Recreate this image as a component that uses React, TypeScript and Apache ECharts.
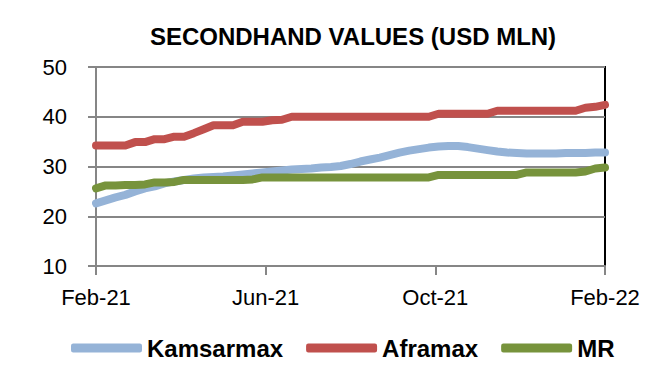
import React, { useEffect, useRef } from "react";
import * as echarts from "echarts";

// Weekly secondhand values, Feb-21 .. Feb-22 (53 weeks)
const kamsarmax = [
  22.6, 23.2, 23.8, 24.3, 25.0, 25.6, 26.0, 26.6, 27.0, 27.3,
  27.6, 27.8, 27.9, 28.0, 28.2, 28.4, 28.6, 28.8, 29.0, 29.2,
  29.4, 29.5, 29.6, 29.8, 29.9, 30.1, 30.5, 31.0, 31.4, 31.8,
  32.3, 32.8, 33.2, 33.5, 33.8, 34.0, 34.1, 34.1, 33.9, 33.6,
  33.3, 33.0, 32.8, 32.7, 32.6, 32.6, 32.6, 32.6, 32.7, 32.7,
  32.7, 32.8, 32.8,
];
const aframax = [
  34.2, 34.2, 34.2, 34.2, 34.9, 34.9, 35.5, 35.5, 36.0, 36.0,
  36.7, 37.5, 38.3, 38.3, 38.3, 39.0, 39.0, 39.0, 39.3, 39.4,
  40.0, 40.0, 40.0, 40.0, 40.0, 40.0, 40.0, 40.0, 40.0, 40.0,
  40.0, 40.0, 40.0, 40.0, 40.0, 40.6, 40.6, 40.6, 40.6, 40.6,
  40.6, 41.2, 41.2, 41.2, 41.2, 41.2, 41.2, 41.2, 41.2, 41.2,
  41.8, 42.0, 42.4,
];
const mr = [
  25.6, 26.2, 26.2, 26.3, 26.3, 26.4, 26.8, 26.8, 26.9, 27.3,
  27.3, 27.3, 27.3, 27.3, 27.3, 27.3, 27.4, 27.8, 27.8, 27.8,
  27.8, 27.8, 27.8, 27.8, 27.8, 27.8, 27.8, 27.8, 27.8, 27.8,
  27.8, 27.8, 27.8, 27.8, 27.8, 28.3, 28.3, 28.3, 28.3, 28.3,
  28.3, 28.3, 28.3, 28.3, 28.8, 28.8, 28.8, 28.8, 28.8, 28.8,
  29.0, 29.6, 29.8,
];
const seriesNames = ["Kamsarmax", "Aframax", "MR"];
const seriesColors = ["#95B3D7", "#C0504D", "#77933C"];
const monthLabels = ["Feb-21", "Jun-21", "Oct-21", "Feb-22"];
const yTicks = [10, 20, 30, 40, 50];
const titleText = "SECONDHAND VALUES (USD MLN)";

const FONT = "'Liberation Sans', Arial, sans-serif";
const WEEKS_PER_YEAR = 52;

function toPoints(values: number[]) {
  // x in months since Feb-21 (weekly observations)
  return values.map((v, i) => [(i * 12) / WEEKS_PER_YEAR, v]);
}

export default function App() {
  const ref = useRef<HTMLDivElement>(null);
  useEffect(() => {
    if (!ref.current) return;
    const chart = echarts.init(ref.current, undefined, { renderer: "svg" });
    const all = [kamsarmax, aframax, mr];
    chart.setOption({
      animation: false,
      backgroundColor: "#ffffff",
      textStyle: { fontFamily: FONT },
      graphic: [
        {
          type: "text",
          x: 353,
          y: 36,
          style: {
            text: titleText,
            fill: "#000",
            font: `bold 24px ${FONT}`,
            textAlign: "center",
            textVerticalAlign: "middle",
          },
        },
      ],
      legend: {
        data: seriesNames.map((n) => ({ name: n, icon: "roundRect" })),
        left: 66,
        top: 331,
        itemWidth: 71,
        itemHeight: 9,
        itemGap: 23,
        textStyle: { fontSize: 24, fontWeight: "bold", color: "#000", fontFamily: FONT },
      },
      grid: {
        left: 96,
        right: 59,
        top: 67,
        bottom: 105,
        show: true,
        borderColor: "#000",
        borderWidth: 2,
        backgroundColor: "transparent",
      },
      xAxis: {
        type: "value",
        min: 0,
        max: 12,
        interval: 4,
        axisLine: { show: true, lineStyle: { color: "#868686", width: 2 } },
        axisTick: { show: true, length: 9, lineStyle: { color: "#868686", width: 2 } },
        splitLine: { show: false },
        axisLabel: {
          margin: 20,
          fontSize: 22,
          color: "#000",
          fontFamily: FONT,
          formatter: (v: number) => monthLabels[Math.round(v / 4)] ?? "",
        },
      },
      yAxis: {
        type: "value",
        min: yTicks[0],
        max: yTicks[yTicks.length - 1],
        interval: 10,
        axisLine: { show: true, lineStyle: { color: "#868686", width: 2 } },
        axisTick: { show: true, length: 8, lineStyle: { color: "#868686", width: 2 } },
        splitLine: { show: true, lineStyle: { color: "#868686", width: 2 } },
        axisLabel: { margin: 29, fontSize: 22, color: "#000", fontFamily: FONT },
      },
      series: all.map((vals, k) => ({
        name: seriesNames[k],
        type: "line",
        data: toPoints(vals),
        showSymbol: false,
        symbol: "none",
        color: seriesColors[k],
        itemStyle: { color: seriesColors[k] },
        lineStyle: { width: 8, color: seriesColors[k], cap: "round", join: "round" },
      })),
    });
    return () => chart.dispose();
  }, []);
  return (
    <div
      ref={ref}
      style={{ position: "fixed", left: 0, top: 0, width: 664, height: 371, background: "#fff" }}
    />
  );
}
